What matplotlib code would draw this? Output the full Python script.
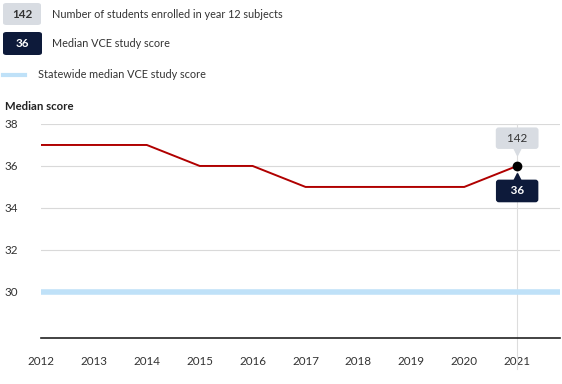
import matplotlib
matplotlib.use('Agg')
import matplotlib.pyplot as plt
from matplotlib.patches import FancyBboxPatch
from matplotlib.lines import Line2D
import matplotlib.transforms as mtransforms

plt.rcParams['font.family'] = ['Lato', 'DejaVu Sans']

years = [2012, 2013, 2014, 2015, 2016, 2017, 2018, 2019, 2020, 2021]
median_score = [37, 37, 37, 36, 36, 35, 35, 35, 35, 36]
statewide_median = 30
enrolled_2021 = 142
y_ticks = [30, 32, 34, 36, 38]

W, H = 562, 384
fig = plt.figure(figsize=(W / 100, H / 100), dpi=100)
ax = fig.add_axes([41 / W, 1 - 338 / H, (560 - 41) / W, (338 - 124) / H])

text_col = '#333333'
navy = '#0d1a3a'
lightgrey = '#d8dce2'
blue = '#bfe1f8'
red = '#b00000'

ax.axhline(statewide_median, color=blue, lw=4, zorder=2)
ax.plot(years, median_score, color=red, lw=1.4, zorder=3)
ax.plot(years[-1], median_score[-1], 'o', color='black', ms=6, zorder=5)
ax.plot([years[-1], years[-1]], [38, 26.3], color='#dddddd', lw=0.8,
        zorder=1, clip_on=False)

ax.set_xlim(2012, 2021.81)
ax.set_ylim(27.8, 38)
ax.set_yticks(y_ticks)
ax.set_xticks(years)
ax.grid(axis='y', color='#d9d9d9', lw=0.8)
ax.set_axisbelow(True)
for s in ['top', 'right', 'left']:
    ax.spines[s].set_visible(False)
ax.spines['bottom'].set_color('#222222')
ax.spines['bottom'].set_linewidth(1.2)
ax.tick_params(axis='both', length=0, labelsize=8.4, colors=text_col)
ax.tick_params(axis='x', pad=13)
for lab in ax.get_yticklabels():
    lab.set_horizontalalignment('left')
ax.tick_params(axis='y', pad=26)

# annotation boxes at last point
x0, y0 = years[-1], median_score[-1]
ax.annotate('  %d  ' % enrolled_2021, (x0, y0), xytext=(0, 20), textcoords='offset points',
            ha='center', va='center', fontsize=8.4, color=text_col, zorder=6,
            bbox=dict(boxstyle='round,pad=0.45,rounding_size=0.25', fc=lightgrey, ec='none'))
ax.annotate('   %d   ' % y0, (x0, y0), xytext=(0, -18), textcoords='offset points',
            ha='center', va='center', fontsize=8.4, color='white', fontweight='bold', zorder=6,
            bbox=dict(boxstyle='round,pad=0.5,rounding_size=0.25', fc=navy, ec='none'))
tr_up = mtransforms.offset_copy(ax.transData, fig=fig, x=0, y=10.5, units='points')
tr_dn = mtransforms.offset_copy(ax.transData, fig=fig, x=0, y=-8, units='points')
ax.plot(x0, y0, marker='v', color=lightgrey, ms=6, transform=tr_up, zorder=6)
ax.plot(x0, y0, marker='^', color=navy, ms=6, transform=tr_dn, zorder=6)

# legend at top
def fx(px):
    return px / W

def fy(py):
    return 1 - py / H

fig.patches.append(FancyBboxPatch((fx(3), fy(25)), fx(38), 22 / H,
                                  boxstyle='round,pad=0,rounding_size=0.006',
                                  fc=lightgrey, ec='none', transform=fig.transFigure))
fig.text(fx(22), fy(14.5), '142', ha='center', va='center', fontsize=8.4,
         color=text_col, fontweight='bold')
fig.text(fx(52), fy(14.5), 'Number of students enrolled in year 12 subjects',
         ha='left', va='center', fontsize=7.8, color=text_col)

fig.patches.append(FancyBboxPatch((fx(3), fy(55)), fx(39), 23 / H,
                                  boxstyle='round,pad=0,rounding_size=0.006',
                                  fc=navy, ec='none', transform=fig.transFigure))
fig.text(fx(22.5), fy(43.5), '36', ha='center', va='center', fontsize=8.4,
         color='white', fontweight='bold')
fig.text(fx(52), fy(43.5), 'Median VCE study score',
         ha='left', va='center', fontsize=7.8, color=text_col)

fig.lines.append(Line2D([fx(3), fx(25)], [fy(75), fy(75)], color=blue, lw=3,
                        transform=fig.transFigure))
fig.text(fx(38), fy(74.5), 'Statewide median VCE study score',
         ha='left', va='center', fontsize=7.8, color=text_col)

fig.text(fx(5), fy(106), 'Median score', ha='left', va='center', fontsize=8.2,
         color='#222222', fontweight='bold')

fig.savefig('out.png', dpi=100)
